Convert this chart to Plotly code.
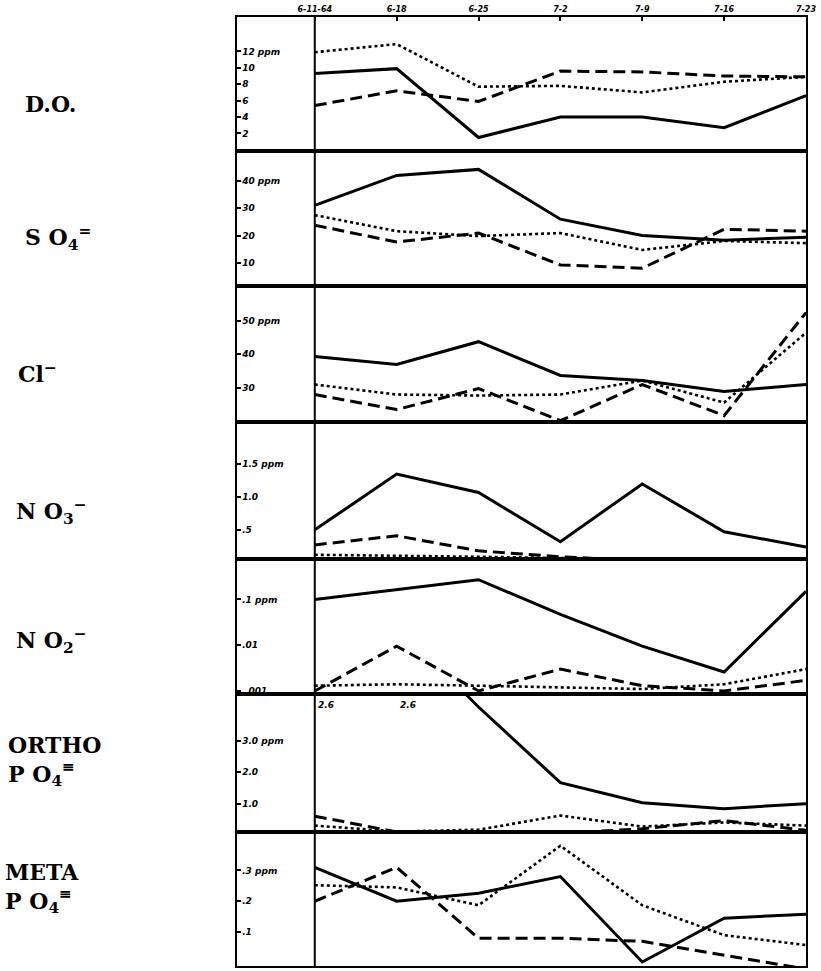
import plotly.graph_objects as go

# ---------------- data ----------------
dates = ["6-11-64", "6-18", "6-25", "7-2", "7-9", "7-16", "7-23"]

do_solid = [9.3, 9.9, 1.5, 4.0, 4.0, 2.7, 6.6]
do_dotted = [11.9, 12.9, 7.7, 7.8, 7.0, 8.3, 8.9]
do_dashed = [5.4, 7.2, 5.9, 9.6, 9.5, 9.0, 8.9]

so4_solid = [31.1, 42.1, 44.3, 26.0, 20.0, 18.3, 19.4]
so4_dotted = [27.5, 21.6, 19.8, 20.9, 14.7, 18.0, 17.2]
so4_dashed = [23.8, 17.6, 20.9, 9.2, 8.0, 22.3, 21.6]

cl_solid = [39.3, 36.9, 43.7, 33.6, 32.1, 28.8, 30.9]
cl_dotted = [30.9, 27.9, 27.6, 27.9, 32.1, 25.5, 46.4]
cl_dashed = [27.9, 23.4, 29.7, 20.1, 30.9, 21.6, 52.4]

no3_solid = [0.5, 1.35, 1.07, 0.32, 1.2, 0.47, 0.24]
no3_dotted = [0.12, 0.11, 0.09, 0.07, 0.03, 0.03, 0.03]
no3_dashed = [0.27, 0.41, 0.18, 0.09, 0.03, 0.03, 0.03]

no2_solid = [0.1, 0.165, 0.27, 0.047, 0.0095, 0.0026, 0.15]
no2_dotted = [0.0013, 0.0014, 0.0013, 0.0012, 0.0011, 0.0014, 0.003]
no2_dashed = [0.001, 0.0095, 0.001, 0.003, 0.0013, 0.001, 0.0017]

ortho_solid = [6.7, 6.7, 4.08, 1.67, 1.03, 0.84, 1.0]
ortho_dotted = [0.3, 0.11, 0.17, 0.62, 0.27, 0.4, 0.3]
ortho_dashed = [0.6, 0.1, 0.05, 0.05, 0.2, 0.46, 0.15]
ortho_notes = ["2.6", "2.6"]

meta_solid = [0.31, 0.2, 0.226, 0.28, 0.003, 0.145, 0.158]
meta_dotted = [0.252, 0.245, 0.187, 0.38, 0.187, 0.09, 0.058]
meta_dashed = [0.2, 0.31, 0.08, 0.08, 0.07, 0.026, -0.02]

panel_labels = [
    "D.O.",
    "S O<sub>4</sub><sup>=</sup>",
    "Cl<sup>−</sup>",
    "N O<sub>3</sub><sup>−</sup>",
    "N O<sub>2</sub><sup>−</sup>",
    "ORTHO<br>P O<sub>4</sub><sup>≡</sup>",
    "META<br>P O<sub>4</sub><sup>≡</sup>",
]

tick_vals = [
    [12, 10, 8, 6, 4, 2],
    [40, 30, 20, 10],
    [50, 40, 30],
    [1.5, 1.0, 0.5],
    [0.1, 0.01, 0.001],
    [3, 2, 1],
    [0.3, 0.2, 0.1],
]
tick_text = [
    ["12 ppm", "10", "8", "6", "4", "2"],
    ["40 ppm", "30", "20", "10"],
    ["50 ppm", "40", "30"],
    ["1.5 ppm", "1.0", ".5"],
    [".1 ppm", ".01", ".001"],
    ["3.0 ppm", "2.0", "1.0"],
    [".3 ppm", ".2", ".1"],
]

panels = [
    (do_solid, do_dotted, do_dashed),
    (so4_solid, so4_dotted, so4_dashed),
    (cl_solid, cl_dotted, cl_dashed),
    (no3_solid, no3_dotted, no3_dashed),
    (no2_solid, no2_dotted, no2_dashed),
    (ortho_solid, ortho_dotted, ortho_dashed),
    (meta_solid, meta_dotted, meta_dashed),
]

# ---------------- layout geometry ----------------
W, H = 821, 971
ML, MR, MT, MB = 237, 13, 13, 5
plot_h = H - MT - MB


def py(px):
    return (H - MB - px) / plot_h


def pxx(px):
    return (px - ML) / (W - ML - MR)


bounds = [13, 148, 283, 420, 557, 693, 831, 966]
y_ranges = [
    [-0.2, 16.2],
    [1.5, 50.9],
    [19.6, 60.4],
    [0.06, 2.14],
    [-3.07, -0.11],
    [0.11, 4.49],
    [-0.01, 0.426],
]
x_range = [-0.95, 6.0]
x = list(range(len(dates)))

fig = go.Figure()
styles = [
    dict(color="black", width=3, dash="solid"),
    dict(color="black", width=2.6, dash="3px,3px"),
    dict(color="black", width=3, dash="12px,6px"),
]

tickfont = dict(size=9, family="DejaVu Sans", color="black",
                style="italic", weight="bold")

layout = {}
for i, series in enumerate(panels):
    n = i + 1
    xa = "x" if n == 1 else f"x{n}"
    ya = "y" if n == 1 else f"y{n}"
    for s, st in zip(series, styles):
        fig.add_trace(go.Scatter(x=x, y=s, mode="lines", line=st,
                                 xaxis=xa, yaxis=ya, showlegend=False,
                                 hoverinfo="skip"))
    top, bot = bounds[i], bounds[i + 1]
    xkey = "xaxis" if n == 1 else f"xaxis{n}"
    ykey = "yaxis" if n == 1 else f"yaxis{n}"
    xdict = dict(domain=[0, 1], anchor=ya, range=x_range, showgrid=False,
                 zeroline=False, showline=True, mirror=True, linewidth=2,
                 linecolor="black", showticklabels=False, ticks="")
    if n == 1:
        xdict.update(side="top", tickvals=x, ticktext=dates, showticklabels=True,
                     ticks="inside", ticklen=4, tickwidth=2, tickcolor="black",
                     tickfont=dict(tickfont, size=8))
    ydict = dict(domain=[py(bot), py(top)], anchor=xa, range=y_ranges[i],
                 showgrid=False, zeroline=False, showline=True, mirror=True,
                 linewidth=2, linecolor="black", tickvals=tick_vals[i],
                 ticktext=tick_text[i], ticks="inside", ticklen=4, tickwidth=2,
                 tickcolor="black", ticklabelposition="inside",
                 tickfont=tickfont)
    if n == 5:
        ydict["type"] = "log"
    layout[xkey] = xdict
    layout[ykey] = ydict

fig.update_layout(**layout)

# inner vertical separator line at the first sampling date
fig.add_shape(type="line", xref="x", yref="paper", x0=0, x1=0, y0=0, y1=1,
              line=dict(color="black", width=2))

# left-hand panel labels
label_pos = [100, 235, 370, 510, 640, 760, 888]
label_x = [22, 22, 15, 13, 13, 5, 2]
annotations = []
for txt, ypx, xpx in zip(panel_labels, label_pos, label_x):
    annotations.append(dict(text=txt, xref="paper", yref="paper",
                            x=pxx(xpx), y=py(ypx), xanchor="left",
                            yanchor="middle", showarrow=False, align="left",
                            font=dict(family="DejaVu Serif", size=22,
                                      color="black", weight="bold")))

# lowest NO2 tick label sits on the panel edge: draw it as text
annotations.append(dict(text=tick_text[4][2], xref="paper", yref="y5",
                        x=pxx(243), y=-3, xanchor="left", yanchor="middle",
                        showarrow=False, font=tickfont))

# off-scale notes in the ORTHO panel
for k, note in enumerate(ortho_notes):
    annotations.append(dict(text=note, xref="x6", yref="paper", x=x[k] + 0.02,
                            y=py(697), xanchor="left", yanchor="top",
                            showarrow=False, font=tickfont))

fig.update_layout(annotations=annotations, width=W, height=H,
                  margin=dict(l=ML, r=MR, t=MT, b=MB),
                  paper_bgcolor="white", plot_bgcolor="white")

fig.write_html("out.html", config={"displayModeBar": False},
               post_script="document.body.style.margin='0px';"
                           "document.body.style.padding='0px';")
